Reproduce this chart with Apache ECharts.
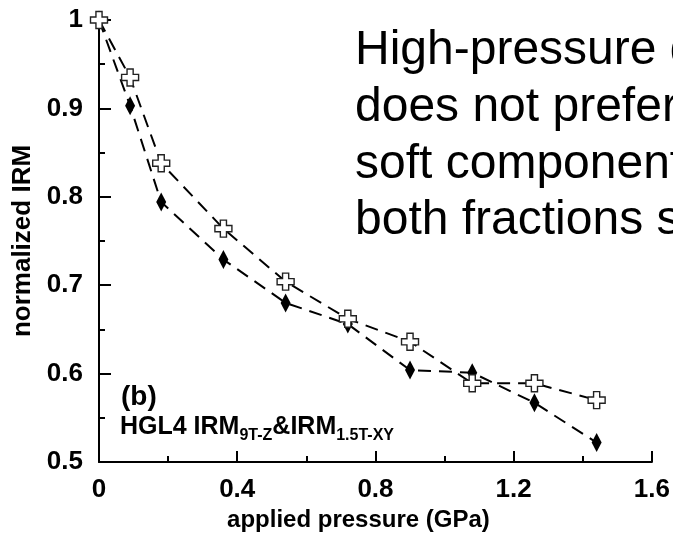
<!DOCTYPE html>
<html>
<head>
<meta charset="utf-8">
<script src="https://cdn.jsdelivr.net/npm/echarts@6/dist/echarts.min.js"></script>
<style>
  html, body { margin: 0; padding: 0; background: #fff; }
  #chart { width: 673px; height: 541px; }
</style>
</head>
<body>
<div id="chart"></div>
<script>
// Applied pressure (GPa) for each measurement step
var pressure = [0, 0.09, 0.18, 0.36, 0.54, 0.72, 0.90, 1.08, 1.26, 1.44];
// Normalized IRM, open crosses
var irmCross = [1.0, 0.935, 0.838, 0.764, 0.704, 0.662, 0.636, 0.589, 0.589, 0.570];
// Normalized IRM, filled diamonds
var irmDiamond = [1.0, 0.903, 0.794, 0.729, 0.680, 0.656, 0.604, 0.601, 0.567, 0.522];

var xTickLabels = ['0', '0.4', '0.8', '1.2', '1.6'];
var yTickLabels = ['0.5', '0.6', '0.7', '0.8', '0.9', '1'];

var noteLines = [
  'High-pressure demagnetization',
  'does not preferentially',
  'soft components',
  'both fractions show'
];

function pairs(xs, ys) {
  return xs.map(function (x, i) { return [x, ys[i]]; });
}

var FONT = '"Liberation Sans", Arial, Helvetica, sans-serif';
var plus = 'path://M3.2,0 H6.8 V3.2 H10 V6.8 H6.8 V10 H3.2 V6.8 H0 V3.2 H3.2 Z';

var chart = echarts.init(document.getElementById('chart'), null, { renderer: 'canvas' });

var graphics = noteLines.map(function (t, i) {
  return {
    type: 'text',
    left: 355,
    top: 27 + i * 56.7,
    z: 10,
    style: {
      text: t,
      font: '48px ' + FONT,
      fill: '#000'
    }
  };
});

graphics.push({
  type: 'text',
  left: 121,
  top: 383,
  z: 10,
  style: { text: '(b)', font: 'bold 28px ' + FONT, fill: '#000' }
});
graphics.push({
  type: 'text',
  left: 120,
  top: 415,
  z: 10,
  style: {
    text: '{m|HGL4 IRM}{s|9T-Z}{m|&IRM}{s|1.5T-XY}',
    rich: {
      m: { font: 'bold 25px ' + FONT, fill: '#000', verticalAlign: 'bottom', lineHeight: 27 },
      s: { font: 'bold 16px ' + FONT, fill: '#000', verticalAlign: 'bottom', lineHeight: 23, padding: [0, 0, -4, 0] }
    }
  }
});

chart.setOption({
  animation: false,
  backgroundColor: '#fff',
  grid: { left: 99, right: 21, top: 20, bottom: 79, containLabel: false },
  xAxis: {
    type: 'value',
    min: 0,
    max: 1.6,
    interval: 0.4,
    name: 'applied pressure (GPa)',
    nameLocation: 'middle',
    nameGap: 42,
    nameTextStyle: { fontFamily: FONT, fontWeight: 'bold', fontSize: 24, color: '#000', padding: [0, 34, 0, 0] },
    axisLine: { show: true, onZero: false, lineStyle: { color: '#000', width: 2 } },
    axisTick: { show: true, inside: true, length: 11, lineStyle: { color: '#000', width: 2 } },
    minorTick: { show: true, splitNumber: 2, length: 6, lineStyle: { color: '#000', width: 2 } },
    splitLine: { show: false },
    axisLabel: {
      margin: 15,
      fontFamily: FONT, fontWeight: 'bold', fontSize: 26, color: '#000',
      formatter: function (v) {
        var i = Math.round(v / 0.4);
        return xTickLabels[i] !== undefined ? xTickLabels[i] : '';
      }
    }
  },
  yAxis: {
    type: 'value',
    min: 0.5,
    max: 1,
    interval: 0.1,
    name: 'normalized IRM',
    nameLocation: 'middle',
    nameGap: 58,
    nameRotate: 90,
    nameTextStyle: { fontFamily: FONT, fontWeight: 'bold', fontSize: 26, color: '#000' },
    axisLine: { show: true, onZero: false, lineStyle: { color: '#000', width: 2 } },
    axisTick: { show: true, inside: true, length: 12, lineStyle: { color: '#000', width: 2 } },
    minorTick: { show: true, splitNumber: 2, length: 6, lineStyle: { color: '#000', width: 2 } },
    splitLine: { show: false },
    axisLabel: {
      margin: 16,
      fontFamily: FONT, fontWeight: 'bold', fontSize: 26, color: '#000',
      formatter: function (v) {
        var i = Math.round((v - 0.5) / 0.1);
        return yTickLabels[i] !== undefined ? yTickLabels[i] : '';
      }
    }
  },
  series: [
    {
      name: 'diamond',
      type: 'line',
      data: pairs(pressure, irmDiamond),
      clip: false,
      symbol: 'diamond',
      symbolSize: [10, 19],
      itemStyle: { color: '#000' },
      lineStyle: { color: '#000', width: 2, type: [13, 8] },
      z: 3
    },
    {
      name: 'cross',
      type: 'line',
      data: pairs(pressure, irmCross),
      clip: false,
      symbol: plus,
      symbolSize: 17,
      itemStyle: { color: '#fff', borderColor: '#222', borderWidth: 1.4 },
      lineStyle: { color: '#000', width: 2, type: [13, 8] },
      z: 4
    }
  ],
  graphic: graphics
});
</script>
</body>
</html>
